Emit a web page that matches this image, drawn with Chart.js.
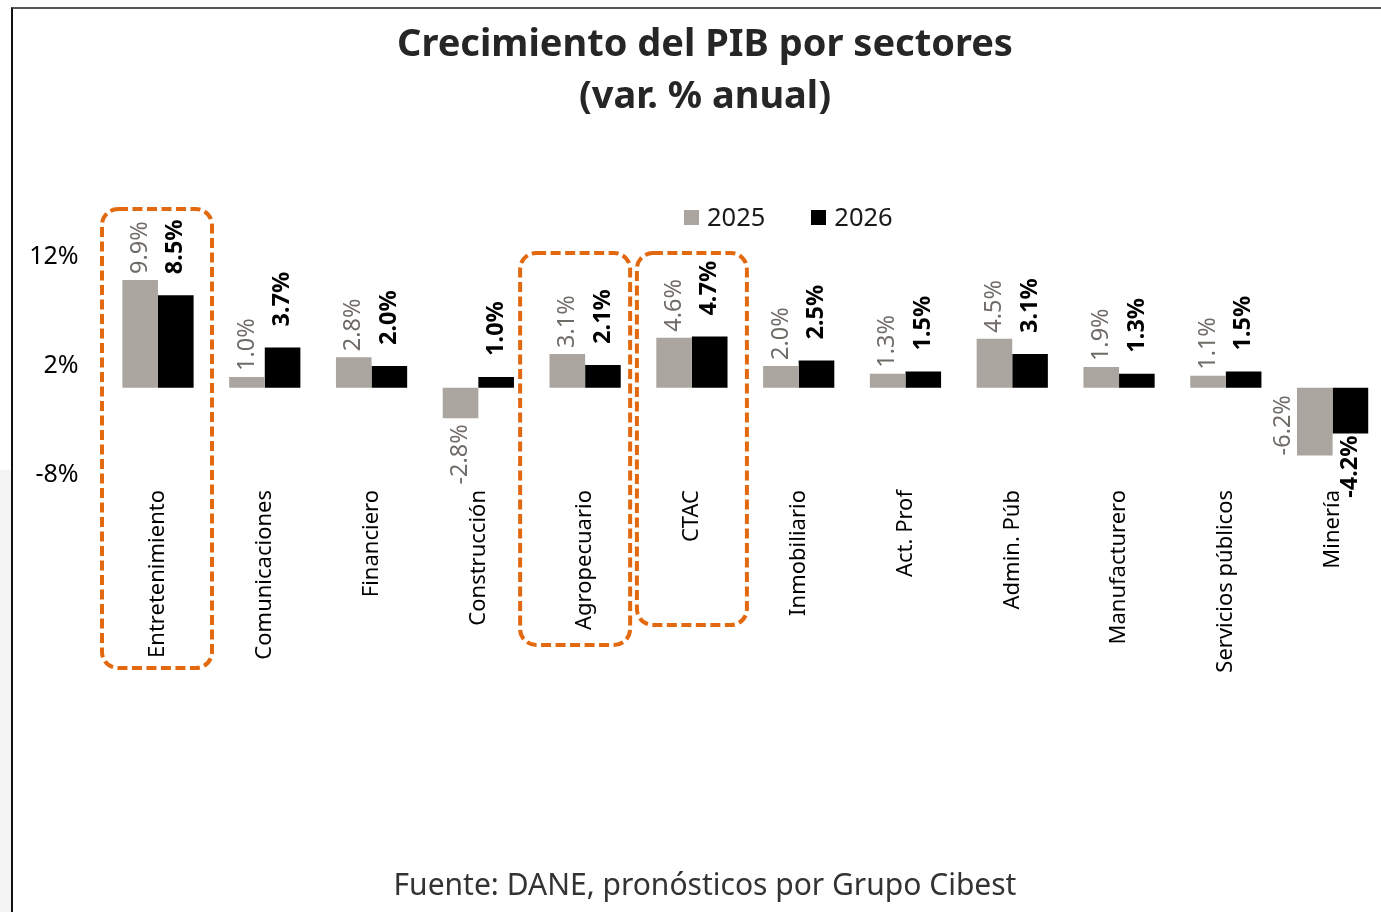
<!DOCTYPE html>
<html lang="es">
<head>
<meta charset="utf-8">
<title>Crecimiento del PIB por sectores</title>
<script src="https://cdn.jsdelivr.net/npm/chart.js@4.4.1/dist/chart.umd.min.js"></script>
<style>
  html, body { margin: 0; padding: 0; width: 1381px; height: 912px; overflow: hidden; background: #fff; }
  body { position: relative; font-family: "Noto Sans", "Open Sans", sans-serif; }
  #frame { position: absolute; left: 11px; top: 7px; right: -10px; bottom: -10px;
           border-left: 2px solid #111; border-top: 2px solid #555; }
  #side { position: absolute; left: 0; top: 470px; width: 11px; bottom: 0; background: #f3f3f3; }
  #chart { position: absolute; left: 0; top: 0; }
  #title { position: absolute; left: 205px; width: 1000px; top: 15px; text-align: center;
           font-weight: 700; font-size: 38px; line-height: 52px; color: #262626; }
  #legend { position: absolute; top: 199px; left: 684px; font-size: 25.5px; color: #1a1a1a; white-space: nowrap; }
  #legend span.item { display: inline-block; margin-right: 46px; }
  #legend i { display: inline-block; width: 15px; height: 15px; margin-right: 8px; vertical-align: 1px; }
  #source { position: absolute; left: 205px; width: 1000px; top: 863px; text-align: center;
            font-size: 30px; color: #333; }
</style>
</head>
<body>
<div id="side"></div>
<div id="frame"></div>
<canvas id="chart" width="1400" height="912"></canvas>
<div id="title">Crecimiento del PIB por sectores<br>(var. % anual)</div>
<div id="legend"></div>
<div id="source">Fuente: DANE, pronósticos por Grupo Cibest</div>

<script>
// ─── Data ────────────────────────────────────────────────────────────────────
const categories = [
  'Entretenimiento', 'Comunicaciones', 'Financiero', 'Construcción',
  'Agropecuario', 'CTAC', 'Inmobiliario', 'Act. Prof', 'Admin. Púb',
  'Manufacturero', 'Servicios públicos', 'Minería',
];
const seriesNames = ['2025', '2026'];
const values2025 = [9.9, 1.0, 2.8, -2.8, 3.1, 4.6, 2.0, 1.3, 4.5, 1.9, 1.1, -6.2];
const values2026 = [8.5, 3.7, 2.0, 1.0, 2.1, 4.7, 2.5, 1.5, 3.1, 1.3, 1.5, -4.2];
const yTicks = [-8, 2, 12];

// ─── Styling ─────────────────────────────────────────────────────────────────
const COLOR_2025 = '#aba59f';
const COLOR_2026 = '#000000';
const LABEL_2025 = '#6f6b67';
const ORANGE = '#e2690f';

// highlighted sectors: dashed rounded boxes (offsets in px from category centre / chart area)
const highlights = [
  { index: 0, left: -56, right: 54, top: -48, bottom: 193 },
  { index: 4, left: -65, right: 45, top: -4, bottom: 170 },
  { index: 5, left: -55, right: 55, top: -4, bottom: 150 },
];

// ─── Plugins ─────────────────────────────────────────────────────────────────
// Vertical value labels above / below every bar.
const barLabels = {
  id: 'barLabels',
  afterDatasetsDraw(chart) {
    const ctx = chart.ctx;
    chart.data.datasets.forEach((ds, di) => {
      const meta = chart.getDatasetMeta(di);
      const bold = di === 1;
      ctx.save();
      ctx.font = (bold ? '700 ' : '400 ') + '23.5px "Noto Sans", sans-serif';
      ctx.fillStyle = bold ? '#000' : LABEL_2025;
      ctx.textBaseline = 'middle';
      meta.data.forEach((el, i) => {
        const v = ds.data[i];
        const text = v.toFixed(1) + '%';
        let x = el.x;
        let y;
        let align;
        if (v >= 0) {
          y = el.y - (bold ? 21 : 6);
          align = 'left';
        } else {
          y = el.y + (bold ? 2 : 6);
          align = 'right';
        }
        // Minería 2025 label sits beside its bar in the original
        if (!bold && categories[i] === 'Minería') {
          x -= 31;
          y = el.y;
          align = 'left';
        }
        ctx.save();
        ctx.translate(x, y);
        ctx.rotate(-Math.PI / 2);
        ctx.textAlign = align;
        ctx.fillText(text, 0, 0);
        ctx.restore();
      });
      ctx.restore();
    });
  },
};

// Orange dashed boxes around the highlighted sectors.
const highlightBoxes = {
  id: 'highlightBoxes',
  afterDraw(chart) {
    const ctx = chart.ctx;
    const xs = chart.scales.x;
    const area = chart.chartArea;
    ctx.save();
    ctx.strokeStyle = ORANGE;
    ctx.lineWidth = 4;
    ctx.setLineDash([10, 4.5]);
    highlights.forEach((h) => {
      const cx = xs.getPixelForValue(h.index);
      const x0 = cx + h.left;
      const x1 = cx + h.right;
      const y0 = area.top + h.top;
      const y1 = area.bottom + h.bottom;
      ctx.beginPath();
      ctx.roundRect(x0, y0, x1 - x0, y1 - y0, 16);
      ctx.stroke();
    });
    ctx.restore();
  },
};

// ─── Chart ───────────────────────────────────────────────────────────────────
const chart = new Chart(document.getElementById('chart'), {
  type: 'bar',
  data: {
    labels: categories,
    datasets: [
      { label: seriesNames[0], data: values2025, backgroundColor: COLOR_2025 },
      { label: seriesNames[1], data: values2026, backgroundColor: COLOR_2026 },
    ],
  },
  options: {
    responsive: false,
    animation: false,
    layout: { padding: { top: 257, left: 0, right: 14, bottom: 0 } },
    datasets: { bar: { barPercentage: 1, categoryPercentage: 0.667 } },
    plugins: {
      legend: { display: false },
      tooltip: { enabled: false },
      title: { display: false },
    },
    scales: {
      x: {
        grid: { display: false },
        border: { display: false },
        ticks: {
          autoSkip: false,
          maxRotation: 90,
          minRotation: 90,
          padding: 7,
          color: '#000',
          font: { family: '"Noto Sans", sans-serif', size: 22 },
        },
        afterFit(scale) { scale.height = 437; },
      },
      y: {
        min: yTicks[0],
        max: yTicks[yTicks.length - 1],
        grid: { display: false },
        border: { display: false },
        afterBuildTicks(scale) { scale.ticks = yTicks.map((v) => ({ value: v })); },
        ticks: {
          padding: 18,
          color: '#000',
          font: { family: '"Noto Sans", sans-serif', size: 25 },
          callback: (v) => v + '%',
        },
        afterFit(scale) { scale.width = 104.6; },
      },
    },
  },
  plugins: [barLabels, highlightBoxes],
});

// ─── HTML legend ─────────────────────────────────────────────────────────────
document.getElementById('legend').innerHTML = chart.data.datasets
  .map((ds) => `<span class="item"><i style="background:${ds.backgroundColor}"></i>${ds.label}</span>`)
  .join('');
</script>
</body>
</html>
